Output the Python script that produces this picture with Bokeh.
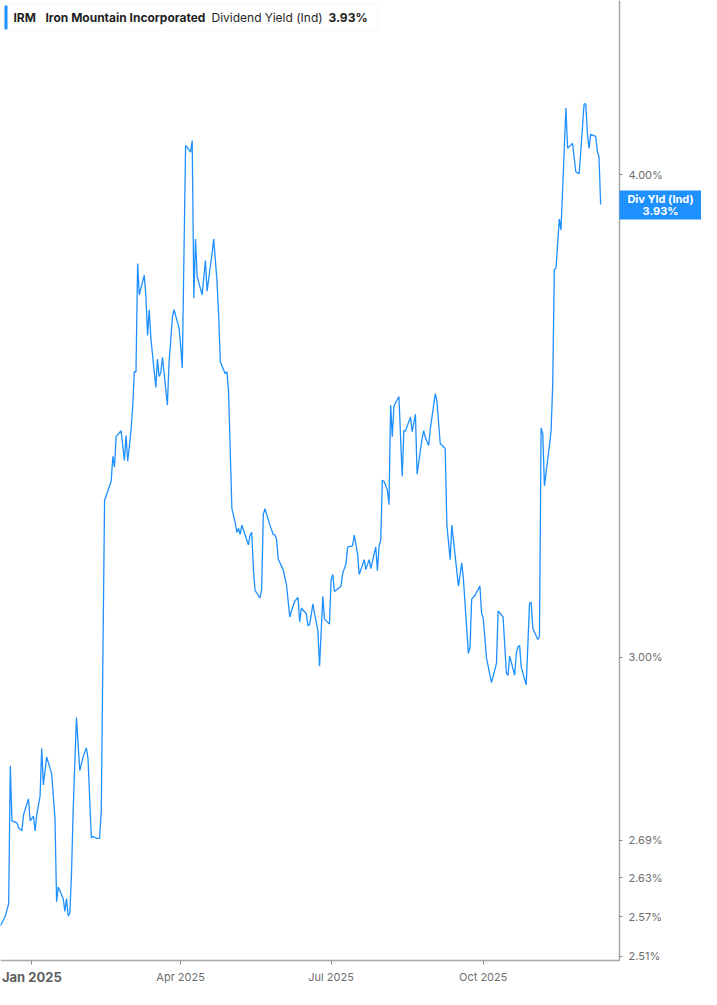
from math import log10

import pandas as pd
from bokeh.embed import file_html
from bokeh.models import BoxAnnotation, FixedTicker, Label, PrintfTickFormatter, Range1d
from bokeh.plotting import figure
from bokeh.resources import INLINE

# IRM indicated dividend yield (%)
dates = [
    "2024-12-13", "2024-12-16", "2024-12-18", "2024-12-19", "2024-12-20", "2024-12-23",
    "2024-12-24", "2024-12-26", "2024-12-27", "2024-12-30", "2024-12-31",
    "2025-01-02", "2025-01-03", "2025-01-04", "2025-01-06", "2025-01-07", "2025-01-08",
    "2025-01-10", "2025-01-13", "2025-01-15", "2025-01-16", "2025-01-17", "2025-01-20",
    "2025-01-21", "2025-01-22", "2025-01-23", "2025-01-24", "2025-01-25", "2025-01-26",
    "2025-01-28", "2025-01-30",
    "2025-02-01", "2025-02-03", "2025-02-04", "2025-02-06", "2025-02-07", "2025-02-09",
    "2025-02-11", "2025-02-12", "2025-02-14", "2025-02-18", "2025-02-19", "2025-02-20",
    "2025-02-21", "2025-02-24", "2025-02-26", "2025-02-27", "2025-02-28",
    "2025-03-02", "2025-03-03", "2025-03-04", "2025-03-05", "2025-03-06", "2025-03-07",
    "2025-03-10", "2025-03-11", "2025-03-12", "2025-03-13", "2025-03-14", "2025-03-17",
    "2025-03-18", "2025-03-19", "2025-03-20", "2025-03-21", "2025-03-24", "2025-03-25",
    "2025-03-26", "2025-03-27", "2025-03-28", "2025-03-31",
    "2025-04-01", "2025-04-02", "2025-04-04", "2025-04-05", "2025-04-07", "2025-04-08",
    "2025-04-09", "2025-04-10", "2025-04-11", "2025-04-14", "2025-04-16", "2025-04-17",
    "2025-04-20", "2025-04-21", "2025-04-23", "2025-04-24", "2025-04-25", "2025-04-28",
    "2025-04-29", "2025-04-30",
    "2025-05-02", "2025-05-04", "2025-05-05", "2025-05-06", "2025-05-07", "2025-05-08",
    "2025-05-10", "2025-05-12", "2025-05-13", "2025-05-14", "2025-05-15", "2025-05-16",
    "2025-05-19", "2025-05-20", "2025-05-21", "2025-05-22", "2025-05-25", "2025-05-27",
    "2025-05-28", "2025-05-29", "2025-05-30",
    "2025-06-02", "2025-06-04", "2025-06-06", "2025-06-07", "2025-06-09", "2025-06-11",
    "2025-06-12", "2025-06-13", "2025-06-16", "2025-06-17", "2025-06-18", "2025-06-20",
    "2025-06-21", "2025-06-23", "2025-06-24", "2025-06-26", "2025-06-27", "2025-06-30",
    "2025-07-01", "2025-07-02", "2025-07-03", "2025-07-07", "2025-07-08", "2025-07-10",
    "2025-07-11", "2025-07-14", "2025-07-15", "2025-07-17", "2025-07-18", "2025-07-20",
    "2025-07-21", "2025-07-22", "2025-07-24", "2025-07-25", "2025-07-28", "2025-07-29",
    "2025-07-30", "2025-07-31",
    "2025-08-01", "2025-08-02", "2025-08-04", "2025-08-05", "2025-08-06", "2025-08-07",
    "2025-08-08", "2025-08-11", "2025-08-13", "2025-08-14", "2025-08-15", "2025-08-18",
    "2025-08-19", "2025-08-21", "2025-08-22", "2025-08-25", "2025-08-26", "2025-08-27",
    "2025-08-29", "2025-08-30",
    "2025-09-02", "2025-09-03", "2025-09-05", "2025-09-08", "2025-09-09", "2025-09-11",
    "2025-09-12", "2025-09-16", "2025-09-18", "2025-09-19", "2025-09-22", "2025-09-23",
    "2025-09-24", "2025-09-26", "2025-09-29", "2025-09-30",
    "2025-10-01", "2025-10-03", "2025-10-06", "2025-10-09", "2025-10-10", "2025-10-13",
    "2025-10-15", "2025-10-16", "2025-10-17", "2025-10-20", "2025-10-21", "2025-10-22",
    "2025-10-23", "2025-10-24", "2025-10-27", "2025-10-29", "2025-10-30", "2025-10-31",
    "2025-11-03", "2025-11-04", "2025-11-05", "2025-11-06", "2025-11-07", "2025-11-09",
    "2025-11-11", "2025-11-12", "2025-11-13", "2025-11-14", "2025-11-16", "2025-11-17",
    "2025-11-20", "2025-11-21", "2025-11-24", "2025-11-26", "2025-11-28", "2025-11-30",
    "2025-12-01", "2025-12-02", "2025-12-03", "2025-12-04", "2025-12-05", "2025-12-08",
    "2025-12-09", "2025-12-10", "2025-12-11",
]
div_yield = [
    2.556, 2.571, 2.590, 2.812, 2.721, 2.718,
    2.710, 2.705, 2.731, 2.757, 2.721,
    2.729, 2.705, 2.731, 2.762, 2.841, 2.780,
    2.827, 2.799, 2.726, 2.593, 2.616, 2.598,
    2.578, 2.598, 2.571, 2.575, 2.636, 2.737,
    2.894, 2.804,
    2.827, 2.842, 2.824, 2.694, 2.696, 2.693,
    2.693, 2.737, 3.294, 3.332, 3.382, 3.360,
    3.422, 3.434, 3.374, 3.424, 3.372,
    3.434, 3.483, 3.557, 3.557, 3.794, 3.724,
    3.768, 3.721, 3.635, 3.691, 3.629, 3.524,
    3.584, 3.547, 3.555, 3.588, 3.487, 3.578,
    3.622, 3.674, 3.691, 3.652,
    3.614, 3.565, 4.071, 4.066, 4.055, 4.083,
    3.717, 3.850, 3.765, 3.724, 3.801, 3.732,
    3.817, 3.850, 3.754, 3.678, 3.578, 3.553,
    3.557, 3.515,
    3.278, 3.251, 3.232, 3.240, 3.228, 3.246,
    3.227, 3.208, 3.227, 3.232, 3.163, 3.122,
    3.108, 3.124, 3.267, 3.278, 3.246, 3.228,
    3.227, 3.219, 3.181,
    3.161, 3.133, 3.073, 3.084, 3.102, 3.109,
    3.064, 3.089, 3.079, 3.057, 3.059, 3.097,
    3.079, 3.048, 2.984, 3.111, 3.069, 3.060,
    3.142, 3.152, 3.120, 3.130, 3.154, 3.172,
    3.204, 3.206, 3.227, 3.191, 3.152, 3.170,
    3.180, 3.161, 3.180, 3.163, 3.204, 3.159,
    3.206, 3.216,
    3.334, 3.332, 3.315, 3.286, 3.487, 3.422,
    3.485, 3.505, 3.342, 3.434, 3.434, 3.462,
    3.432, 3.468, 3.346, 3.418, 3.434, 3.420,
    3.404, 3.438,
    3.511, 3.495, 3.408, 3.398, 3.247, 3.180,
    3.246, 3.130, 3.174, 3.144, 3.007, 3.018,
    3.106, 3.113, 3.130, 3.080,
    3.071, 2.998, 2.955, 2.989, 3.084, 3.073,
    2.972, 2.968, 3.002, 2.968, 3.007, 3.019,
    3.021, 2.982, 2.951, 3.098, 3.100, 3.052,
    3.032, 3.037, 3.440, 3.428, 3.323, 3.376,
    3.432, 3.528, 3.781, 3.783, 3.896, 3.871,
    4.163, 4.064, 4.076, 4.007, 4.003, 4.115,
    4.173, 4.173, 4.100, 4.064, 4.098, 4.093,
    4.057, 4.043, 3.930,
]

ticker_symbol = "IRM"
company_name = "Iron Mountain Incorporated"
metric_name = "Dividend Yield (Ind)"
badge_name = "Div Yld (Ind)"

x_tick_dates = ["2025-01-01", "2025-04-01", "2025-07-01", "2025-10-01"]
x_tick_labels = ["Jan 2025", "Apr 2025", "Jul 2025", "Oct 2025"]
y_ticks = [2.51, 2.57, 2.63, 2.69, 3.00, 4.00]

BLUE = "#1E90FF"
FONT = "Inter"
AXIS_GREY = "#a8a8a8"
LABEL_GREY = "#6e6e6e"

# the whole canvas is the frame; the axes sit inside it at fixed locations
CANVAS_W, CANVAS_H = 701, 989
PLOT_W, PLOT_H = 619, 960  # area left of the y axis / above the x axis

x_start = pd.Timestamp("2024-12-13 01:40").timestamp() * 1000
x_axis_end = pd.Timestamp("2025-12-22 09:40").timestamp() * 1000
y_axis_start, y_end = 2.5037, 4.4386


def x_at(px):
    # pixel from the left -> datetime ms
    return x_start + (x_axis_end - x_start) * px / PLOT_W


def y_at(px):
    # pixel from the top -> value on the log axis
    lo, hi = log10(y_axis_start), log10(y_end)
    return 10 ** (hi - (hi - lo) * px / PLOT_H)


p = figure(
    frame_width=CANVAS_W,
    frame_height=CANVAS_H,
    x_axis_type="datetime",
    y_axis_type="log",
    y_axis_location="right",
    x_range=Range1d(x_start, x_at(CANVAS_W)),
    y_range=Range1d(y_at(CANVAS_H), y_end),
    toolbar_location=None,
    output_backend="svg",
    min_border=0,
)
p.outline_line_color = None
p.grid.grid_line_color = None

p.line(pd.to_datetime(dates), div_yield, color=BLUE, line_width=1.3)

# x axis
tick_ms = [pd.Timestamp(d).timestamp() * 1000 for d in x_tick_dates]
p.xaxis.fixed_location = y_axis_start
p.xaxis.bounds = (x_start, x_axis_end)
p.xaxis.ticker = FixedTicker(ticks=tick_ms, minor_ticks=[])
p.xaxis.major_label_overrides = {
    t: ("" if i == 0 else lab) for i, (t, lab) in enumerate(zip(tick_ms, x_tick_labels))
}
p.xaxis.axis_line_color = AXIS_GREY
p.xaxis.axis_line_width = 1.5
p.xaxis.major_tick_line_color = "#8a8a8a"
p.xaxis.major_tick_out = 4
p.xaxis.major_tick_in = 0
p.xaxis.major_label_standoff = 5
p.xaxis.major_label_text_font = FONT
p.xaxis.major_label_text_font_size = "11px"
p.xaxis.major_label_text_color = LABEL_GREY

# first tick label is drawn bolder
p.add_layout(Label(
    x=tick_ms[0], y=y_axis_start, y_offset=-16, text=x_tick_labels[0],
    text_align="center", text_baseline="middle",
    text_font=FONT, text_font_size="13px", text_font_style="bold", text_color="#5e5e5e",
))

# y axis (log)
p.yaxis.fixed_location = x_axis_end
p.yaxis.bounds = (y_axis_start, y_end)
p.yaxis.ticker = FixedTicker(ticks=y_ticks, minor_ticks=[])
p.yaxis.formatter = PrintfTickFormatter(format="%.2f%%")
p.yaxis.axis_line_color = AXIS_GREY
p.yaxis.axis_line_width = 1.5
p.yaxis.major_tick_line_color = "#8a8a8a"
p.yaxis.major_tick_out = 3
p.yaxis.major_tick_in = 0
p.yaxis.minor_tick_line_color = None
p.yaxis.major_label_standoff = 6
p.yaxis.major_label_text_font = FONT
p.yaxis.major_label_text_font_size = "11px"
p.yaxis.major_label_text_color = LABEL_GREY

# last value badge next to the y axis
last = div_yield[-1]
p.add_layout(BoxAnnotation(
    left=x_at(PLOT_W), right=x_at(CANVAS_W), top=y_at(190), bottom=y_at(219),
    fill_color=BLUE, fill_alpha=1, line_color=None,
))
for dy, txt in [(6, badge_name), (-6, f"{last:.2f}%")]:
    p.add_layout(Label(
        x=x_axis_end, y=last, x_offset=(CANVAS_W - PLOT_W) / 2, y_offset=dy, text=txt,
        text_align="center", text_baseline="middle",
        text_font=FONT, text_font_size="11px", text_font_style="bold", text_color="white",
    ))

# header box
p.add_layout(BoxAnnotation(
    left=x_at(3), right=x_at(377), top=y_at(4), bottom=y_at(30),
    fill_color="white", fill_alpha=1, line_color="#e6e6e6", line_width=1, border_radius=3,
))
p.add_layout(BoxAnnotation(
    left=x_at(4), right=x_at(7), top=y_at(5), bottom=y_at(29),
    fill_color=BLUE, fill_alpha=1, line_color=None, border_radius=1,
))
header = [
    (13, ticker_symbol, "bold"),
    (45, company_name, "bold"),
    (211, metric_name, "normal"),
    (328, f"{last:.2f}%", "bold"),
]
for off, txt, style in header:
    p.add_layout(Label(
        x=x_start, y=y_end, x_offset=off, y_offset=-16.5, text=txt,
        text_align="left", text_baseline="middle",
        text_font=FONT, text_font_size="12px", text_font_style=style, text_color="#1f1f1f",
    ))

open("out.html", "w").write(file_html(p, INLINE))
